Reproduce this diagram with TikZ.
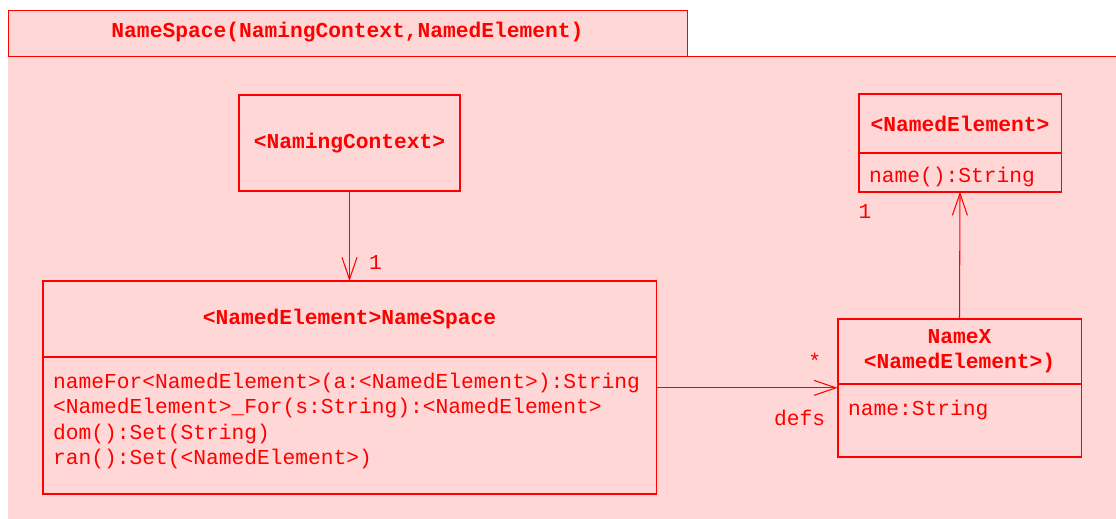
\documentclass[tikz,border=0pt]{standalone}
\usepackage{fontspec}
\setmonofont{Liberation Mono}
\usetikzlibrary{positioning,arrows.meta}
\definecolor{umlred}{RGB}{255,0,0}
\definecolor{umlpink}{RGB}{255,215,215}

\begin{document}
\begin{tikzpicture}[
    x=0.02cm, y=-0.02cm,
    every node/.style={
        text=umlred,
        font=\ttfamily\fontsize{12.1}{14.5}\selectfont
    },
    tab/.style={
        rectangle,
        draw=umlred,
        fill=umlpink,
        line width=0.5pt,
        inner sep=0pt,
        font=\ttfamily\bfseries\fontsize{12.1}{14.5}\selectfont
    },
    head/.style={
        rectangle,
        draw=umlred,
        line width=0.5pt,
        inner sep=0pt,
        anchor=north,
        text centered,
        align=center,
        font=\ttfamily\bfseries\fontsize{12.1}{14.5}\selectfont
    },
    members/.style={
        rectangle,
        draw=umlred,
        line width=0.5pt,
        inner xsep=0.2cm,
        inner ysep=0pt,
        anchor=north,
        align=left
    },
    frame/.style={draw=umlred, line width=1pt},
    assoc/.style={draw=umlred, line width=0.6pt, -{Straight Barb[length=0.44cm, width=0.3cm]}},
    mult/.style={anchor=base, inner sep=0pt},
]
    \useasboundingbox (0,0) rectangle (1116,519);

    % package
    \fill[umlpink] (8,56) rectangle (1116,519);
    \draw[umlred, line width=0.5pt] (8,56) -- (1116,56);
    \node (pkgtab) [tab, minimum width=13.58cm, minimum height=0.92cm, text depth=0.12cm] at (347.5,33)
        {NameSpace(NamingContext,NamedElement)};

    % classes
    \node (ctx) [head, line width=1pt, minimum width=4.42cm, minimum height=1.92cm] at (349.5,94)
        {<NamingContext>};

    \node (nehead) [head, minimum width=4.04cm, minimum height=1.16cm] at (960,94) {<NamedElement>};
    \node (nebody) [members, text width=3.64cm, minimum height=0.76cm, text height=0.5cm, text depth=0.1cm] at (nehead.south) {name():String};

    \node (nshead) [head, minimum width=12.26cm, minimum height=1.5cm] at (349.5,281) {<NamedElement>NameSpace};
    \node (nsbody) [members, text width=11.86cm, minimum height=2.72cm, text depth=1.78cm] at (nshead.south)
        {nameFor<NamedElement>(a:<NamedElement>):String\\
         <NamedElement>\_For(s:String):<NamedElement>\\
         dom():Set(String)\\
         ran():Set(<NamedElement>)};

    \node (nxhead) [head, minimum width=4.86cm, minimum height=1.28cm] at (959.5,319) {NameX\\<NamedElement>)};
    \node (nxbody) [members, text width=4.46cm, minimum height=1.44cm, text depth=0.5cm] at (nxhead.south) {name:String};

    \foreach \cls in {ne,ns,nx}
        \draw[frame] (\cls head.north west) rectangle (\cls body.south east);

    % associations
    \draw[assoc] (ctx.south) -- node[mult, pos=0.871, xshift=0.52cm] {1} (nshead.north);
    \draw[assoc] (nxhead.north) -- node[mult, pos=0.791, xshift=-1.9cm] {1} (nebody.south);
    \coordinate (defsend) at ([yshift=-0.08cm]nxbody.north west);
    \draw[assoc] (nsbody.east |- defsend) --
        node[mult, pos=0.874, yshift=0.38cm] {*}
        node[mult, pos=0.791, yshift=-0.76cm] {defs} (defsend);
\end{tikzpicture}
\end{document}
